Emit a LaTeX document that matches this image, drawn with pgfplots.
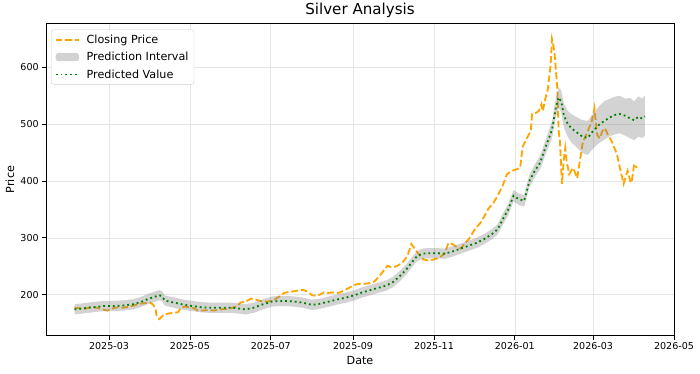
\documentclass[border=0pt]{standalone}
\usepackage{fontspec}
\setmainfont{DejaVu Sans}
\usepackage{pgfplots}
\usepackage{pgfplotstable}
\pgfplotsset{compat=1.18}
\definecolor{mplorange}{HTML}{FFA500}
\definecolor{mplgreen}{HTML}{008000}

\pgfplotstableread{
x pred
33 174
40 176
47 178
55 180
62 180
70 181
77 183
83 187
88 192
93 196
97 199
99 197
101 190
104 188
110 185
116 182
122 180
128 178
135 177
142 177
150 177
156 176
162 174
168 177
175 183
182 188
190 189
198 188
205 186
212 182
218 184
225 188
232 192
238 195
244 199
250 204
256 208
262 212
268 216
273 222
278 232
283 244
287 256
291 267
295 272
300 273
306 273
312 272
318 276
324 281
330 286
336 291
342 298
348 307
352 315
356 333
360 350
364 374
368 368
372 365
376 400
380 418
384 432
389 465
393 490
396 530
398 547
400 540
402 515
405 500
408 492
412 485
416 478
420 476
424 488
428 498
432 505
436 511
440 516
444 518
448 515
452 510
455 507
458 513
461 510
463 514
}\pred

% prediction interval: upper bound forward, then lower bound backward
\pgfplotstableread{
x y
33 183
40 185
47 187
55 189
62 189
70 190
77 192
83 196
88 201
93 205
97 208
99 206
101 199
104 197
110 194
116 191
122 189
128 187
135 186
142 186
150 186
156 185
162 183
168 186
175 192
182 197
190 198
198 197
205 195
212 191
218 193
225 197
232 201
238 204
244 208
250 213
256 217
262 221
268 225
273 231
278 241
283 253
287 265
291 276
295 281
300 282
306 282
312 281
318 285
324 290
330 295
336 300
342 307
348 316
352 324
356 343
360 360
364 384
368 378
372 375
376 411
380 429
384 444
389 478
393 505
396 547
398 565
400 559
402 536
405 523
408 517
412 512
416 507
420 506
424 519
428 530
432 540
436 544
440 548
444 550
448 545
452 546
455 540
458 549
461 545
463 550
463 479
461 476
458 478
455 472
452 475
448 480
444 484
440 482
436 478
432 472
428 466
424 457
420 446
416 449
412 458
408 467
405 477
402 494
400 521
398 529
396 513
393 475
389 452
384 420
380 407
376 389
372 355
368 358
364 364
360 340
356 323
352 306
348 298
342 289
336 282
330 277
324 272
318 267
312 263
306 264
300 264
295 263
291 258
287 247
283 235
278 223
273 213
268 207
262 203
256 199
250 195
244 190
238 186
232 183
225 179
218 175
212 173
205 177
198 179
190 180
182 179
175 174
168 168
162 165
156 167
150 168
142 168
135 168
128 169
122 171
116 173
110 176
104 179
101 181
99 188
97 190
93 187
88 183
83 178
77 174
70 172
62 171
55 171
47 169
40 167
33 165
}\band

\pgfplotstableread{
x close
33 177
37 176
41 175
45 178
50 177
54 174
58 172
62 176
66 178
70 177
74 179
78 181
82 184
86 185
90 186
92 183
94 176
95 160
97 157
100 164
104 167
108 168
111 169
113 176
116 179
120 178
123 176
126 172
130 172
134 173
138 172
143 174
148 175
152 177
156 180
158 186
162 188
166 193
170 191
175 188
179 188
183 190
187 196
191 203
195 205
199 206
203 208
206 208
209 205
212 199
215 198
218 200
221 204
224 203
228 204
232 203
236 207
240 212
243 216
247 219
251 219
255 220
259 223
263 233
266 242
269 251
272 248
276 250
280 256
284 268
287 289
290 279
293 270
296 262
300 260
304 262
308 265
312 272
315 291
318 289
321 284
324 281
328 292
331 300
335 316
339 326
342 338
345 351
349 362
352 374
356 393
359 412
363 418
369 423
370 444
371 461
374 475
377 488
378 518
381 520
383 523
385 535
386 523
388 545
390 563
392 605
393 650
394 640
395 623
397 563
398 488
399 470
400.5 395
402 440
403 458
404 435
406 412
408 420
409 423
412 405
414 435
416 465
418 478
420 488
423 505
425 528
427 482
429 475
431 488
433 493
435 482
438 470
442 447
444 425
447 395
450 418
452 400
453 397
455 430
457 423
}\closing

\begin{document}
\begin{tikzpicture}
\begin{axis}[
  at={(0pt,0pt)}, anchor=south west,
  scale only axis,
  width=690.8pt, height=343.2pt,
  xmin=11.5, xmax=485,
  ymin=128, ymax=677,
  xtick={59,120,181,243,304,365,424,485},
  xticklabels={2025-03,2025-05,2025-07,2025-09,2025-11,2026-01,2026-03,2026-05},
  ytick={200,300,400,500,600},
  xtick pos=bottom, ytick pos=left,
  tick align=outside,
  major tick length=4.5pt,
  every tick/.style={black, line width=0.8pt},
  axis line style={black, line width=0.8pt},
  grid=major,
  major grid style={black!10, line width=0.7pt},
  tick label style={font=\fontsize{10.5}{12}\selectfont},
  /pgf/number format/assume math mode=true,
  /pgf/number format/1000 sep={},
  xlabel={Date}, ylabel={Price},
  label style={font=\fontsize{12.3}{14}\selectfont},
  title={Silver Analysis},
  title style={font=\fontsize{16.6}{19}\selectfont, yshift=-3pt},
  legend style={at={(0,1)}, anchor=north west, xshift=5.5pt, yshift=-6.6pt,
    draw=black!20, rounded corners=3pt, fill=white,
    font=\fontsize{12.3}{14}\selectfont, row sep=4.3pt, inner xsep=4pt, inner ysep=3.5pt},
  legend cell align=left,
  legend image code/.code={\draw[#1] (0pt,0pt) -- (25.6pt,0pt); \path (31pt,0pt);},
]
\addplot[mplorange, line width=2pt, dash pattern=on 7.4pt off 3.2pt] table[x=x,y=close]{\closing};
\addlegendentry{Closing Price}
\addplot[fill=gray, fill opacity=0.35, draw=none,
  legend image code/.code={\fill[gray, fill opacity=0.35] (0pt,-4.5pt) rectangle (25.6pt,4.5pt); \path (31pt,0pt);}]
  table[x=x,y=y]{\band} -- cycle;
\addlegendentry{Prediction Interval}
\addplot[mplgreen, line width=2pt, dash pattern=on 2pt off 3.3pt] table[x=x,y=pred]{\pred};
\addlegendentry{Predicted Value}
\end{axis}
\useasboundingbox (-50.6pt,-41.8pt) rectangle (719.4pt,368.5pt);
\end{tikzpicture}
\end{document}
